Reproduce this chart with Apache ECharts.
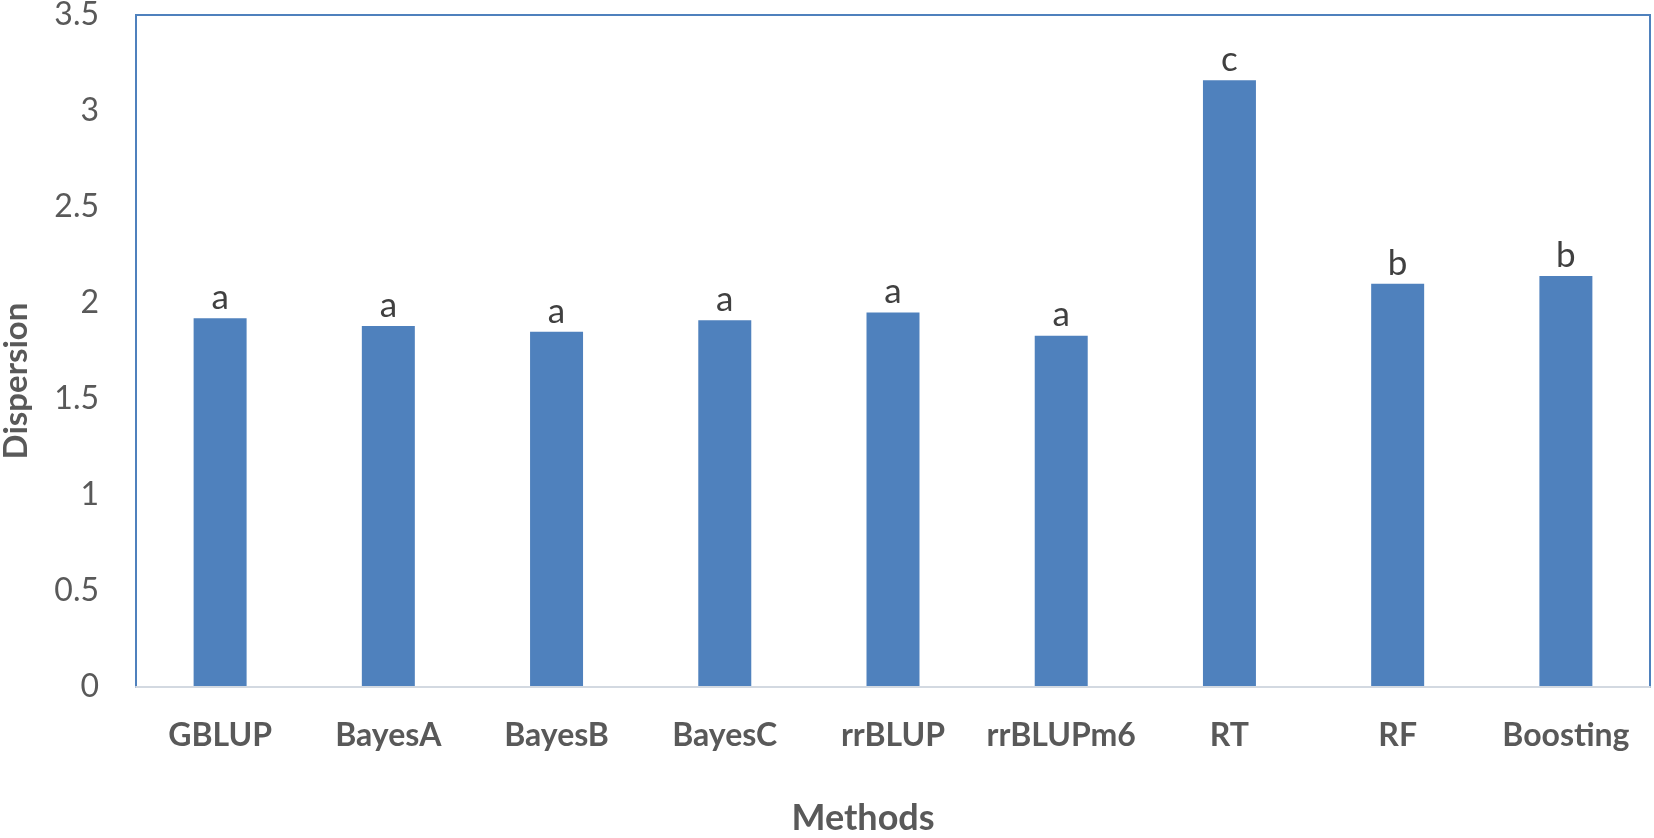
<!DOCTYPE html>
<html>
<head>
<meta charset="utf-8">
<script src="https://cdn.jsdelivr.net/npm/echarts@6/dist/echarts.min.js"></script>
<style>
  html, body { margin: 0; padding: 0; background: #ffffff; }
  #chart { width: 1654px; height: 838px; }
</style>
</head>
<body>
<div id="chart"></div>
<script>
const categories = ['GBLUP', 'BayesA', 'BayesB', 'BayesC', 'rrBLUP', 'rrBLUPm6', 'RT', 'RF', 'Boosting'];
const dispersion = [1.92, 1.88, 1.85, 1.91, 1.95, 1.83, 3.16, 2.10, 2.14];
const groupLetters = ['a', 'a', 'a', 'a', 'a', 'a', 'c', 'b', 'b'];
const yTicks = [0, 0.5, 1, 1.5, 2, 2.5, 3, 3.5];

const chart = echarts.init(document.getElementById('chart'), null, { renderer: 'canvas' });

const FONT = 'Lato, "Open Sans", sans-serif';

chart.setOption({
  backgroundColor: '#ffffff',
  animation: false,
  grid: {
    left: 136, right: 4, top: 15, bottom: 151,
    containLabel: false,
    outerBoundsMode: 'none',
    show: true,
    borderColor: '#4f81bd',
    borderWidth: 2,
    backgroundColor: 'transparent'
  },
  xAxis: {
    type: 'category',
    data: categories,
    name: 'Methods',
    nameLocation: 'middle',
    nameGap: 113,
    nameTextStyle: {
      fontFamily: FONT, fontWeight: 'bold', fontSize: 36, color: '#595959',
      padding: [0, 60, 0, 0]
    },
    axisLine: { show: true, lineStyle: { color: '#d3d9e1', width: 2 } },
    axisTick: { show: false },
    axisLabel: {
      interval: 0,
      fontFamily: FONT, fontWeight: 'bold', fontSize: 32, color: '#595959', margin: 33
    },
    z: 5
  },
  yAxis: {
    type: 'value',
    min: 0, max: 3.5, interval: 0.5,
    name: 'Dispersion',
    nameLocation: 'middle',
    nameGap: 103,
    nameTextStyle: {
      fontFamily: FONT, fontWeight: 'bold', fontSize: 33, color: '#595959',
      padding: [0, 60, 0, 0]
    },
    axisLine: { show: false },
    axisTick: { show: false },
    splitLine: { show: false },
    axisLabel: {
      fontFamily: FONT, fontSize: 32, color: '#595959', margin: 37,
      formatter: function (v) { return yTicks.indexOf(v) >= 0 ? String(v) : ''; }
    }
  },
  series: [{
    type: 'bar',
    data: dispersion,
    barWidth: '31.5%',
    itemStyle: { color: '#4f81bd' },
    label: {
      show: true,
      position: 'top',
      distance: 3,
      fontFamily: FONT,
      fontSize: 35,
      color: '#404040',
      formatter: function (p) { return groupLetters[p.dataIndex]; }
    }
  }]
});
</script>
</body>
</html>
